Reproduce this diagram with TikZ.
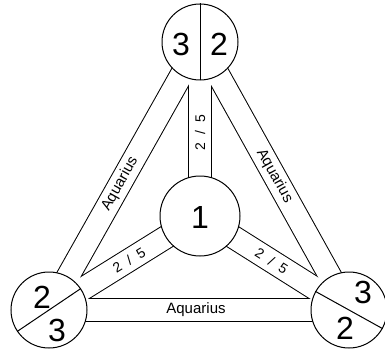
\documentclass[tikz,border=0pt]{standalone}
\usepackage{fontspec}
\setmainfont{Liberation Sans}
\begin{document}
\begin{tikzpicture}[x=1pt,y=-1pt,
  bandblack/.style={line width=24pt, black},
  bandwhite/.style={line width=22pt, white},
  disc/.style={circle, draw, line width=1pt, fill=white, minimum size=76pt, inner sep=0pt},
  num/.style={font=\fontsize{32}{32}\selectfont, inner sep=0pt},
  lbl/.style={font=\fontsize{15}{15}\selectfont, sloped, inner sep=0pt},
  fr/.style={font=\fontsize{14}{14}\selectfont, sloped, inner sep=0pt}]
\useasboundingbox (0,0) rectangle (385,350);
\coordinate (T) at (200,42);
\coordinate (C) at (200,216);
\coordinate (BL) at (49,310);
\coordinate (BR) at (349,310);
\foreach \a/\b in {T/BL,T/BR,BL/BR,C/T,C/BL,C/BR} \draw[bandblack] (\a) -- (\b);
\foreach \a/\b in {T/BL,T/BR,BL/BR,C/T,C/BL,C/BR} \draw[bandwhite] (\a) -- (\b);
\path (BL) -- node[lbl, pos=0.47] (l1) {Aquarius} (T);
\path (T) -- node[lbl, pos=0.50] (l2) {Aquarius} (BR);
\path (BL) -- node[lbl, pos=0.49] (l3) {Aquarius} (BR);
\path (C) -- node[fr, pos=0.48] (f1) {2\hspace{8pt}/\hspace{8pt}5} (T);
\path (BL) -- node[fr, pos=0.53] (f2) {2\hspace{8pt}/\hspace{8pt}5} (C);
\path (C) -- node[fr, pos=0.48] (f3) {2\hspace{8pt}/\hspace{8pt}5} (BR);
\node[disc] (nT) at (T) {};
\node[disc, minimum size=80pt] (nC) at (C) {};
\node[disc] (nBL) at (BL) {};
\node[disc] (nBR) at (BR) {};
\draw[line width=1pt] (nT.north) -- (nT.south);
\draw[line width=1pt] (nBL.34) -- (nBL.214);
\draw[line width=1pt] (nBR.151) -- (nBR.-29);
\node[num] (t3) at (181,44) {3};
\node[num] (t2) at (219,44) {2};
\node[num] (c1) at (200,217) {1};
\node[num] (bl2) at (42,297) {2};
\node[num] (bl3) at (57,330) {3};
\node[num] (br3) at (363,292) {3};
\node[num] (br2) at (345,328) {2};
\end{tikzpicture}
\end{document}
